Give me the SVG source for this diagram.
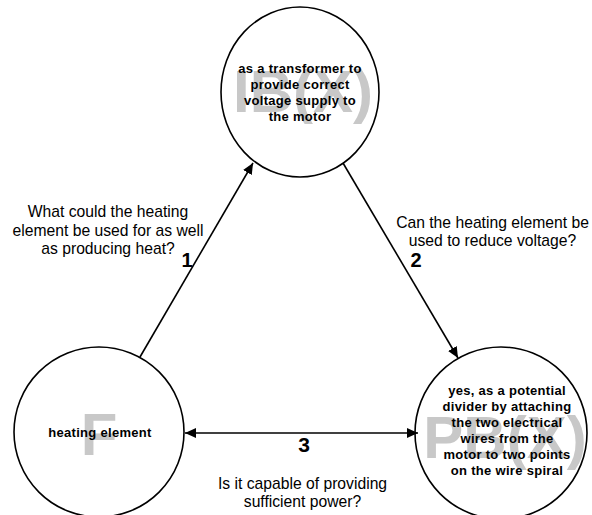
<svg xmlns="http://www.w3.org/2000/svg" width="592" height="515" viewBox="0 0 592 515">
<style>
.node{fill:#fff;stroke:#000;stroke-width:1.6}
.ghost{font-family:"Liberation Sans",Arial,sans-serif;font-weight:bold;font-size:60px;fill:#c8c8c8;text-anchor:middle}
.nt{font-family:"Liberation Sans",Arial,sans-serif;font-weight:bold;font-size:13px;letter-spacing:0.3px;fill:#000;text-anchor:middle}
.lbl{font-family:"Liberation Sans",Arial,sans-serif;font-size:15.7px;fill:#000;text-anchor:middle}
.num{font-family:"Liberation Sans",Arial,sans-serif;font-weight:bold;font-size:20px;fill:#000;text-anchor:middle}
.conn{stroke:#000;stroke-width:1.6;fill:none}
</style>
<defs>
<marker id="ah" markerUnits="userSpaceOnUse" markerWidth="12" markerHeight="10" refX="11" refY="5" orient="auto-start-reverse" viewBox="0 0 12 10">
<path d="M0,0 L11,5 L0,10 Z" fill="#000"/>
</marker>
</defs>
<rect width="592" height="515" fill="#fff"/>
<g id="node-top">
<ellipse class="node" cx="300" cy="92" rx="79" ry="85"/>
<text class="ghost" x="303" y="112">IB(X)</text>
<text class="nt" x="300" y="73">as a transformer to</text>
<text class="nt" x="300" y="89">provide correct</text>
<text class="nt" x="300" y="105">voltage supply to</text>
<text class="nt" x="300" y="121">the motor</text>
</g>
<g id="node-left">
<circle class="node" cx="99" cy="432" r="85"/>
<text class="ghost" x="99" y="455">F</text>
<text class="nt" x="100" y="437">heating element</text>
</g>
<g id="node-right">
<circle class="node" cx="501" cy="433" r="86"/>
<text class="ghost" x="505" y="458">PB(X)</text>
<text class="nt" x="507" y="395">yes, as a potential</text>
<text class="nt" x="507" y="411">divider by attaching</text>
<text class="nt" x="507" y="427">the two electrical</text>
<text class="nt" x="507" y="443">wires from the</text>
<text class="nt" x="507" y="459">motor to two points</text>
<text class="nt" x="507" y="475">on the wire spiral</text>
</g>
<g id="connectors">
<line class="conn" x1="140" y1="357" x2="253" y2="163" marker-end="url(#ah)"/>
<line class="conn" x1="343" y1="163" x2="458" y2="358" marker-end="url(#ah)"/>
<line class="conn" x1="185" y1="433" x2="418" y2="433" marker-start="url(#ah)" marker-end="url(#ah)"/>
</g>
<g id="labels">
<text class="lbl" x="108" y="217">What could the heating</text>
<text class="lbl" x="108" y="235.5">element be used for as well</text>
<text class="lbl" x="108" y="254">as producing heat?</text>
<text class="num" x="187" y="267">1</text>
<text class="lbl" x="492.5" y="228">Can the heating element be</text>
<text class="lbl" x="492.5" y="245.5">used to reduce voltage?</text>
<text class="num" x="416" y="267">2</text>
<text class="num" x="304" y="452" style="font-size:21px">3</text>
<text class="lbl" x="302.5" y="488.5">Is it capable of providing</text>
<text class="lbl" x="302.5" y="507">sufficient power?</text>
</g>
</svg>
